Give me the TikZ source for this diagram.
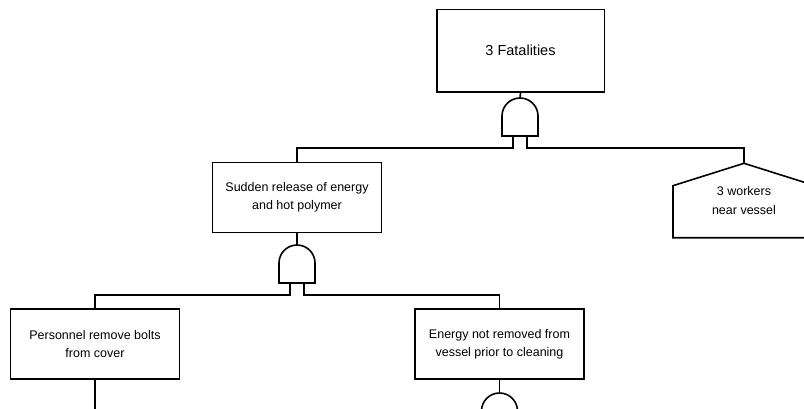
\documentclass[tikz,border=0pt]{standalone}
\usepackage{fontspec}
\setmainfont{Liberation Sans}
\usetikzlibrary{calc}
\newcommand\drawandgate[1]{\draw[lw] (#1.south west) -- ++(0,-20) arc[start angle=180,end angle=360,x radius=18,y radius=18] -- (#1.south east) -- cycle;}
\begin{document}
\begin{tikzpicture}[x=1pt,y=-1pt,
 lw/.style={line width=1.6pt},
 txt/.style={align=center, font=\fontsize{12.5}{18}\selectfont},
 event/.style={draw, lw, rectangle, minimum width=169pt, minimum height=70pt, inner sep=0pt, txt},
 gatebox/.style={rectangle, minimum width=36pt, minimum height=38pt, inner sep=0pt, outer sep=0pt},
 housebox/.style={rectangle, minimum width=142pt, minimum height=74.4pt, inner sep=0pt, outer sep=0pt, txt, font=\fontsize{12.5}{19}\selectfont}
]
\useasboundingbox (0,0) rectangle (804,408);
\fill[white] (0,0) rectangle (804,408);
\clip (0,0) rectangle (804,408);

\node[event, minimum width=167.6pt, minimum height=82.4pt, font=\fontsize{14.5}{18}\selectfont] (top) at (520.5,50.5) {3 Fatalities};
\node[gatebox] (g1) at (520,117) {};
\drawandgate{g1}

\node[event] (sud) at (297,197.5) {Sudden release of energy\\and hot polymer};
\node[housebox] (house) at (744,200.5) {3 workers\\near vessel};
\draw[lw] (house.south west) -- ($(house.north west)+(0,22.4)$) -- (house.north) -- ($(house.north east)+(0,22.4)$) -- (house.south east) -- cycle;

\node[gatebox] (g2) at (297,264) {};
\drawandgate{g2}

\node[event] (pers) at (95,344) {Personnel remove bolts\\from cover};
\node[event] (energy) at (499.5,344) {Energy not removed from\\vessel prior to cleaning};
\node[gatebox] (g3) at (499.5,412) {};
\drawandgate{g3}
\coordinate (persdown) at (95,430);

\draw[lw] (top.south) -- (g1.north);
\draw[lw] ($(g1.south)+(-7,0)$) -- ++(0,12) -| (sud.north);
\draw[lw] ($(g1.south)+(7,0)$) -- ++(0,12) -| (house.north);
\draw[lw] (sud.south) -- (g2.north);
\draw[lw] ($(g2.south)+(-7,0)$) -- ++(0,12) -| (pers.north);
\draw[lw] ($(g2.south)+(7,0)$) -- ++(0,12) -| (energy.north);
\draw[lw] (energy.south) -- (g3.north);
\draw[lw] (pers.south) -- (persdown);
\end{tikzpicture}
\end{document}
